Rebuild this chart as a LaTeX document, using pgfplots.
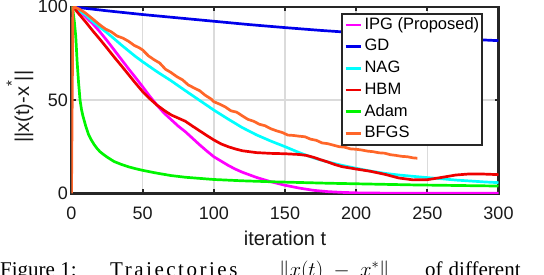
\documentclass[border=0pt]{standalone}
\usepackage{fontspec}
\setmainfont{Liberation Sans}
\newfontfamily\capfont{Liberation Serif}
\newfontfamily\capfontsp[LetterSpace=12]{Liberation Serif}
\usepackage{pgfplots}
\pgfplotsset{compat=1.18}
\definecolor{cIPG}{RGB}{255,0,255}
\definecolor{cGD}{RGB}{0,0,235}
\definecolor{cNAG}{RGB}{0,255,255}
\definecolor{cHBM}{RGB}{238,0,0}
\definecolor{cAdam}{RGB}{0,245,0}
\definecolor{cBFGS}{RGB}{255,102,41}
\definecolor{frame}{RGB}{38,38,38}
\begin{document}
\begin{tikzpicture}
\clip (0,0) rectangle (544pt,274pt);
\useasboundingbox (0,0) rectangle (544pt,274pt);
\begin{axis}[
  at={(71.5pt,80.7pt)}, anchor=south west,
  width=427pt, height=186.6pt, scale only axis,
  xmin=0, xmax=300, ymin=0, ymax=100,
  xtick={0,50,...,300}, ytick={0,50,100},
  grid=major,
  major grid style={color=black!14, line width=1.5pt},
  axis line style={color=frame, line width=2.4pt},
  tick style={color=frame, line width=2pt},
  tick align=inside, major tick length=4pt,
  /pgf/number format/assume math mode=true,
  ticklabel style={font=\fontsize{18}{18}\selectfont, color=black!90},
  xticklabel style={anchor=base, yshift=-25.7pt},
  label style={font=\fontsize{20}{20}\selectfont, color=black!90},
  xlabel={iteration t},
  xlabel style={at={(axis description cs:0.5,0)}, anchor=base, yshift=-51.7pt},
  ylabel={||x(t)-x\raisebox{0.62em}{\fontsize{15}{15}\selectfont *}||},
  ylabel style={at={(axis description cs:-0.0991,0.464)}, anchor=base},
  legend style={at={(axis description cs:0.6311,0.9678)}, anchor=north west,
    draw=frame, line width=1.8pt, fill=white,
    font=\fontsize{16.5}{16.5}\selectfont,
    inner xsep=2.5pt, inner ysep=3.3pt, row sep=5.7pt,
    nodes={inner sep=0pt, text height=12.3pt, text depth=3.7pt},
    /tikz/column 1/.style={column sep=2pt}},
  legend cell align=left,
  legend image code/.code={\draw[#1, line width=2.6pt] (0pt,0pt) -- (15.6pt,0pt);},
  every axis plot/.append style={line width=2.7pt, line join=round, mark=none},
]
% IPG (Proposed)
\addplot[cIPG] coordinates {
(0,100)(1,100)(5,98)(10,94.5)(15,90.8)(20,86.5)(25,81.8)(30,76.8)(35,71.8)(40,66.8)(45,62)(50,57.1)
(55,52)(60,47.3)(65,43)(70,39.5)(75,36)(80,33)(85,29.5)(90,26)(95,22.7)(100,19.6)(105,17.3)(110,15)
(115,13)(120,11.3)(130,8.5)(140,6.2)(150,4.3)(160,2.8)(170,1.6)(180,0.9)(190,0.5)(200,0.25)(220,0.08)(250,0)(300,0)};
\addlegendentry{IPG (Proposed)}
% GD
\addplot[cGD] coordinates {
(0,100)(1,99.9)(25,97.8)(50,95.8)(75,94.0)(100,92.2)(125,90.4)(150,88.8)(175,87.3)(200,86.0)(225,84.8)(250,83.7)(275,82.7)(300,81.8)};
\addlegendentry{GD}
% NAG
\addplot[cNAG] coordinates {
(0,100)(1,99.9)(5,98)(10,95.5)(15,92)(20,89)(25,86)(30,82.8)(35,79.5)(40,76.4)(45,73.3)(50,70.5)
(60,65.2)(70,60.3)(80,55)(90,49.8)(100,44.6)(110,39.8)(120,35.2)(130,31.3)(140,28)(150,25)(160,21.8)
(170,19)(180,16.8)(190,15)(200,13.4)(210,11.9)(220,10.7)(230,9.8)(240,9.1)(250,8.4)(260,7.8)(270,7.1)(280,6.6)(290,6.1)(300,5.7)};
\addlegendentry{NAG}
% HBM
\addplot[cHBM] coordinates {
(0,100)(1,100)(5,96.3)(10,91.8)(15,87)(20,82.5)(25,77.8)(30,73)(35,68.4)(40,63.7)(45,59)(50,54.5)
(55,50.7)(60,47.3)(65,44.5)(70,42)(75,40.3)(80,38.6)(85,36)(90,33.5)(95,31)(100,28.6)(105,26.5)(110,25)
(115,23.8)(120,22.8)(125,22.3)(130,21.8)(140,21.4)(150,21.2)(160,20.8)(165,20.3)(170,19.3)(175,18)(180,16.8)
(185,15.4)(190,14.3)(200,13)(210,11.8)(220,10.2)(230,8.2)(240,7.2)(250,7.3)(260,8.5)(270,9.8)(280,10.4)(290,10.3)(300,10)};
\addlegendentry{HBM}
% Adam
\addplot[cAdam] coordinates {
(0,100)(1,98)(2,92)(3,84)(4,70)(5,59)(6,50)(7,45)(8,41.5)(9,38.8)(10,36)(12,31.5)(14,28.5)(16,26)(18,24)
(20,22.3)(22.5,20.8)(25,19.4)(30,17)(35,15.5)(40,14.2)(45,13.2)(50,12.3)(60,10.8)(70,9.5)(80,8.6)(90,8)(100,7.4)
(120,6.7)(140,6.2)(160,5.8)(180,5.4)(200,5.1)(220,4.8)(240,4.5)(260,4.3)(280,4.1)(300,3.9)};
\addlegendentry{Adam}
% BFGS
\addplot[cBFGS] coordinates {
(0,0)(1,99.5)(3,99.6)(6,98.5)(10,96.5)(14,94)(18,91.5)(20,90.2)(24,88)(28,86.5)(32,84.3)(36,83.2)(40,81.5)
(44,79.3)(48,77.8)(50,76.8)(54,73.7)(58,71.6)(62,69.8)(66,66.5)(70,64.7)(74,62.5)(78,60.8)(82,58.1)(86,56.5)
(90,55.0)(94,52.5)(98,50.6)(100,49.1)(104,47.8)(108,46.3)(112,44.2)(116,43.5)(120,41.5)(124,39.6)(128,38.6)
(132,37.0)(136,36.2)(140,34.6)(144,33.5)(148,32.6)(152,31.2)(156,31.0)(160,30.6)(164,30.3)(168,29.0)(172,28.4)
(176,27.0)(180,26.6)(184,25.8)(188,25.0)(192,24.7)(196,23.8)(200,23.6)(204,23.2)(208,22.6)(212,22.3)(216,21.7)
(220,21.5)(224,20.7)(228,20.3)(232,19.8)(236,19.6)(240,19.0)(243,18.8)};
\addlegendentry{BFGS}
\end{axis}
\begin{scope}[every node/.style={anchor=base west, inner sep=0pt}]
\node[font=\capfont\fontsize{21}{21}\selectfont] at (0pt,-2pt) {Figure 1:};
\node[font=\capfontsp\fontsize{21}{21}\selectfont] at (110pt,-2pt) {Trajectories};
\node[font=\capfont\fontsize{21}{21}\selectfont] at (279pt,-2pt) {$\|x(t)\;-\;x^*\|$};
\node[font=\capfont\fontsize{21}{21}\selectfont] at (425pt,-2pt) {of\hspace{6pt}different};
\end{scope}
\end{tikzpicture}
\end{document}
